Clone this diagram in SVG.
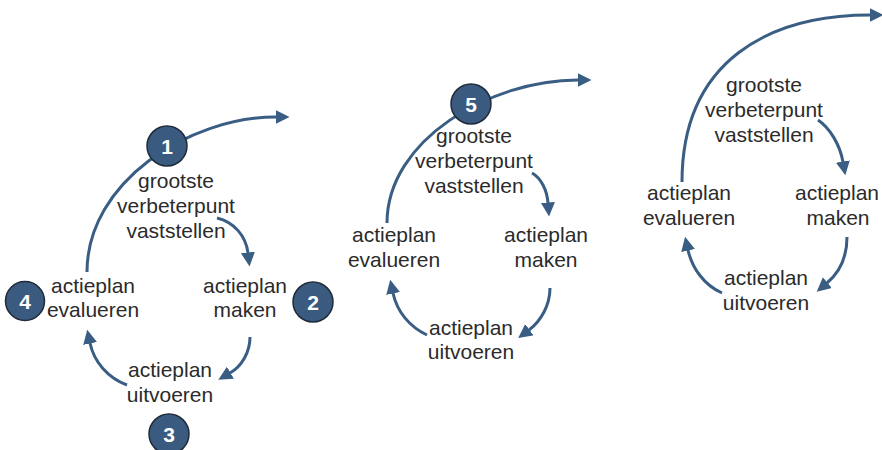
<svg xmlns="http://www.w3.org/2000/svg" width="882" height="450" viewBox="0 0 882 450">
  <style>
    .lbl { font-family: "Liberation Sans", Arial, sans-serif; font-size: 21px; fill: #2b2b2b; text-anchor: middle; }
    .num { font-family: "Liberation Sans", Arial, sans-serif; font-size: 21px; font-weight: bold; fill: #ffffff; text-anchor: middle; }
    .badge { fill: #3a5a7f; stroke: #1f2b38; stroke-width: 1.5; }
    .flow { fill: none; stroke: #3a5d84; stroke-width: 3; marker-end: url(#head); }
  </style>
  <defs>
    <marker id="head" markerUnits="userSpaceOnUse" markerWidth="16" markerHeight="16" refX="0.5" refY="7" orient="auto">
      <path d="M0,0 L14,7 L0,14 z" fill="#3a5d84"/>
    </marker>
  </defs>

  <rect width="882" height="450" fill="#ffffff"/>

  <!-- connectors -->
  <g id="connectors">
    <!-- first cycle -->
    <path class="flow" d="M87,272 C87,182 189,117 276,117"/>
    <path class="flow" d="M217,218 C234,222 246,236 248,253"/>
    <path class="flow" d="M250,337 C250,352 242,366 230,373"/>
    <path class="flow" d="M127,385 C108,378 94,362 90,343"/>
    <!-- second cycle -->
    <path class="flow" d="M387,223 C387,140 490,80 578,80"/>
    <path class="flow" d="M532,173 C541,178 547,190 548,203"/>
    <path class="flow" d="M550,288 C550,305 541,321 529,330"/>
    <path class="flow" d="M427,335 C410,327 397,312 393,293"/>
    <!-- third cycle -->
    <path class="flow" d="M682,182 C682,60 770,15 870,15"/>
    <path class="flow" d="M818,120 C830,128 840,145 843,162"/>
    <path class="flow" d="M847,237 C847,256 840,272 827,283"/>
    <path class="flow" d="M722,293 C704,285 692,268 688,250"/>
  </g>

  <!-- first cycle -->
  <g id="c1-vaststellen">
    <text class="lbl" x="176" y="188">grootste</text>
    <text class="lbl" x="176" y="213">verbeterpunt</text>
    <text class="lbl" x="176" y="238">vaststellen</text>
  </g>
  <g id="c1-maken">
    <text class="lbl" x="245" y="293">actieplan</text>
    <text class="lbl" x="245" y="317">maken</text>
  </g>
  <g id="c1-uitvoeren">
    <text class="lbl" x="170" y="377">actieplan</text>
    <text class="lbl" x="170" y="402">uitvoeren</text>
  </g>
  <g id="c1-evalueren">
    <text class="lbl" x="93" y="293">actieplan</text>
    <text class="lbl" x="93" y="317">evalueren</text>
  </g>
  <g id="badge-1">
    <circle class="badge" cx="167" cy="146" r="20"/>
    <text class="num" x="167" y="153.5">1</text>
  </g>
  <g id="badge-2">
    <circle class="badge" cx="313" cy="302" r="20"/>
    <text class="num" x="313" y="309.5">2</text>
  </g>
  <g id="badge-3">
    <circle class="badge" cx="169" cy="434" r="20"/>
    <text class="num" x="169" y="441.5">3</text>
  </g>
  <g id="badge-4">
    <circle class="badge" cx="25" cy="301" r="19.5"/>
    <text class="num" x="25" y="308.5">4</text>
  </g>

  <!-- second cycle -->
  <g id="c2-vaststellen">
    <text class="lbl" x="474" y="143">grootste</text>
    <text class="lbl" x="474" y="168">verbeterpunt</text>
    <text class="lbl" x="474" y="193">vaststellen</text>
  </g>
  <g id="c2-maken">
    <text class="lbl" x="546" y="242">actieplan</text>
    <text class="lbl" x="546" y="267">maken</text>
  </g>
  <g id="c2-uitvoeren">
    <text class="lbl" x="471" y="335">actieplan</text>
    <text class="lbl" x="471" y="359">uitvoeren</text>
  </g>
  <g id="c2-evalueren">
    <text class="lbl" x="394" y="242">actieplan</text>
    <text class="lbl" x="394" y="267">evalueren</text>
  </g>
  <g id="badge-5">
    <circle class="badge" cx="471" cy="104" r="20"/>
    <text class="num" x="471" y="111.5">5</text>
  </g>

  <!-- third cycle -->
  <g id="c3-vaststellen">
    <text class="lbl" x="764" y="92">grootste</text>
    <text class="lbl" x="764" y="117">verbeterpunt</text>
    <text class="lbl" x="764" y="142">vaststellen</text>
  </g>
  <g id="c3-maken">
    <text class="lbl" x="837" y="200">actieplan</text>
    <text class="lbl" x="838" y="225">maken</text>
  </g>
  <g id="c3-uitvoeren">
    <text class="lbl" x="766" y="285">actieplan</text>
    <text class="lbl" x="766" y="310">uitvoeren</text>
  </g>
  <g id="c3-evalueren">
    <text class="lbl" x="689" y="200">actieplan</text>
    <text class="lbl" x="689" y="225">evalueren</text>
  </g>
</svg>
